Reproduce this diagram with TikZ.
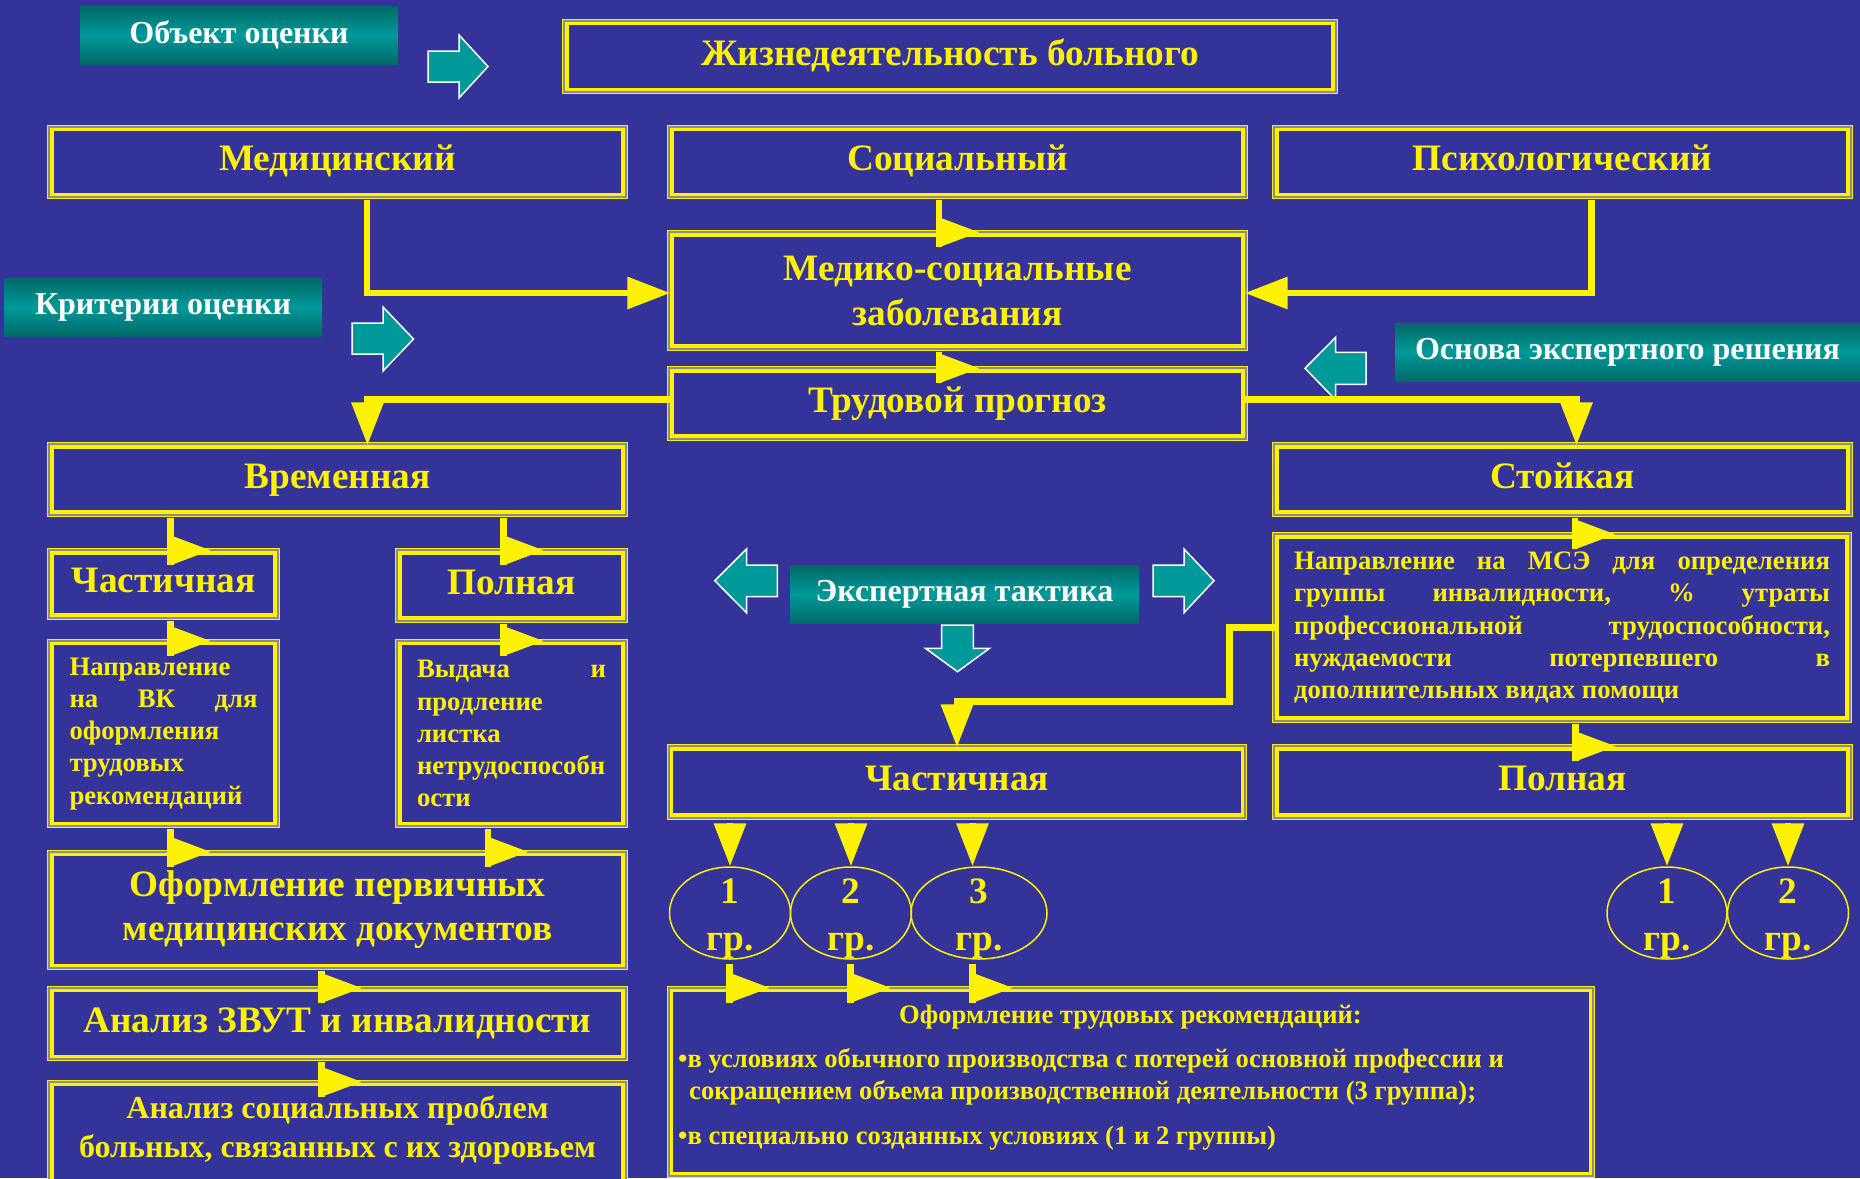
\documentclass[tikz,border=0pt]{standalone}
\usepackage{fontspec}
\setmainfont{Liberation Serif}
\usetikzlibrary{arrows.meta,calc,shapes.geometric}
\hyphenpenalty=10000
\exhyphenpenalty=10000

\definecolor{bgblue}{RGB}{51,51,153}
\definecolor{teallight}{RGB}{0,153,153}
\definecolor{tealdark}{RGB}{0,104,104}
\definecolor{framegray}{RGB}{140,140,140}

\tikzset{
	box/.style={draw=yellow, line width=3.4pt, fill=bgblue, text=yellow, inner sep=0pt, align=center,
		font=\bfseries\fontsize{37.3}{45}\selectfont,
		preaction={draw=yellow, line width=9.4pt}, preaction={draw=framegray, line width=7.4pt}},
	onebox/.style={box, text height=25pt, text depth=8pt},
	smallbox/.style={box, font=\bfseries\fontsize{26.7}{32.3}\selectfont, align=justify},
	tealtag/.style={top color=tealdark, bottom color=tealdark, middle color=teallight, text=white, inner sep=0pt,
		minimum height=58pt, font=\bfseries\fontsize{32}{38}\selectfont},
	tarrow/.style={fill=teallight, draw=white, line width=1.5pt, line join=miter},
	group/.style={ellipse, draw=yellow, line width=1.5pt, inner sep=0pt, minimum height=92pt},
	grtext/.style={text=yellow, align=center, font=\bfseries\fontsize{37.3}{47}\selectfont},
	yline/.style={draw=yellow, line width=6.5pt},
	yarrow/.style={yline, -{Triangle[length=43pt,width=31pt]}},
	rectext/.style={text=yellow, font=\bfseries\fontsize{26.6}{30}\selectfont}
}

% linea vertical con punta lateral
\newcommand{\sidearrow}[3]{%
	\draw[yline] ($(#1.south -| #2.north)+(#3,4)$) -- ($(#2.north)+(#3,14)$);
	\fill[yellow] ($(#2.north)+(#3,-16)$) -- ($(#2.north)+(#3,14)$) -- ($(#2.north)+(#3+40,-1)$) -- cycle;}

\begin{document}
\begin{tikzpicture}[x=1pt, y=-1pt]
	\useasboundingbox (0,0) rectangle (1860,1178);
	\clip (0,0) rectangle (1860,1178);
	\fill[bgblue] (0,0) rectangle (1860,1178);
	% Etiquetas
		\node[tealtag, minimum width=318pt] (obj) at (239,35) {Объект оценки};
		\node[tealtag, minimum width=318pt] (krit) at (163,307) {Критерии оценки};
		\node[tealtag, minimum width=465pt] (osnova) at (1627.5,352) {Основа экспертного решения};
		\node[tealtag, minimum width=349pt] (takt) at (964.5,594.5) {Экспертная тактика};
	% Flechas turquesa
		\draw[tarrow] (428,51) -- (459,51) -- (459,35) -- (488,66.5) -- (459,98) -- (459,82) -- (428,82) -- cycle;
		\draw[tarrow] (352,323) -- (383,323) -- (383,307) -- (413.5,339) -- (383,371) -- (383,354) -- (352,354) -- cycle;
		\draw[tarrow] (1366,352.3) -- (1335.7,352.3) -- (1335.7,337.3) -- (1305,368.3) -- (1335.7,400) -- (1335.7,384.3) -- (1366,384.3) -- cycle;
		\draw[tarrow] (777.3,565) -- (746.5,565) -- (746.5,549) -- (714.8,580.7) -- (746.5,612.7) -- (746.5,596.7) -- (777.3,596.7) -- cycle;
		\draw[tarrow] (1153,565) -- (1184,565) -- (1184,549) -- (1214,580.7) -- (1184,612.7) -- (1184,596.7) -- (1153,596.7) -- cycle;
		\draw[tarrow] (941.7,625) -- (941.7,648.3) -- (925.5,648.3) -- (957.5,671.7) -- (989.5,648.3) -- (973.3,648.3) -- (973.3,625) -- cycle;
	% Cajas
		\node[onebox, minimum width=766pt, minimum height=66pt] (zhiz) at (950,56.5) {Жизнедеятельность больного};
		\node[onebox, minimum width=571pt, minimum height=65pt] (med) at (337.5,162) {Медицинский};
		\node[onebox, minimum width=571pt, minimum height=65pt] (soc) at (957.5,162) {Социальный};
		\node[onebox, minimum width=571pt, minimum height=65pt] (psy) at (1562.5,162) {Психологический};
		\node[box, minimum width=571pt, minimum height=111pt] (medsoc) at (957.5,290.5) {Медико-социальные\\заболевания};
		\node[onebox, minimum width=571pt, minimum height=65pt] (trud) at (957.5,403.5) {Трудовой прогноз};
		\node[onebox, minimum width=571pt, minimum height=65pt] (vrem) at (337.5,479.5) {Временная};
		\node[onebox, minimum width=571pt, minimum height=65pt] (stoik) at (1562.5,479.5) {Стойкая};
		\node[onebox, minimum width=223pt, minimum height=62pt] (chastl) at (163.5,584) {Частичная};
		\node[onebox, minimum width=223pt, minimum height=65pt] (polnl) at (511.5,585.5) {Полная};
		\node[smallbox, minimum width=223pt, minimum height=180pt, text width=188pt] (vk) at (163.5,733.7)
			{Направление\linebreak на ВК для\linebreak оформления\linebreak трудовых\linebreak рекомендаций};
		\node[smallbox, minimum width=223pt, minimum height=180pt, text width=189pt] (vyd) at (511.5,733.7)
			{Выдача и\linebreak продление\linebreak листка\linebreak нетрудоспособн\linebreak ости};
		\node[box, minimum width=571pt, minimum height=111pt, font=\bfseries\fontsize{37.3}{44}\selectfont] (oform) at (337.5,910)
			{Оформление первичных\\медицинских документов};
		\node[onebox, minimum width=571pt, minimum height=66pt] (zvut) at (337.5,1023.7) {Анализ ЗВУТ и инвалидности};
		\node[box, minimum width=571pt, minimum height=140pt, anchor=north] (socprob) at (337.5,1082.8) {};
		\node[text=yellow, align=center, font=\bfseries\fontsize{32}{39}\selectfont] (socprobt) at (337.5,1130)
			{Анализ социальных проблем\\больных, связанных с их здоровьем};
		\node[smallbox, minimum width=570pt, minimum height=181pt, text width=536pt] (mse) at (1562,627.5)
			{Направление на МСЭ для определения\linebreak группы инвалидности, \% утраты\linebreak
			профессиональной трудоспособности,\linebreak нуждаемости потерпевшего в\linebreak дополнительных видах помощи};
		\node[onebox, minimum width=571pt, minimum height=66pt] (chastm) at (957,782) {Частичная};
		\node[onebox, minimum width=571pt, minimum height=66pt] (polnr) at (1562.5,782) {Полная};
		\node[box, minimum width=919pt, minimum height=183pt] (trudrek) at (1131,1082) {};
		\node[rectext, anchor=base] (trtitle) at (1130.5,1023) {Оформление трудовых рекомендаций:};
		\node[rectext, anchor=base west, inner sep=0pt] (trbul1) at (678,1067) {•в условиях обычного производства с потерей основной профессии и};
		\node[rectext, anchor=base west, inner sep=0pt] (trbul2) at (689,1099) {сокращением объема производственной деятельности (3 группа);};
		\node[rectext, anchor=base west, inner sep=0pt] (trbul3) at (678,1144) {•в специально созданных условиях (1 и 2 группы)};
	% Grupos
		\node[group, minimum width=121pt] (e1) at (730,913) {};
		\node[group, minimum width=121pt] (e2) at (851,913) {};
		\node[group, minimum width=136pt] (e3) at (979,913) {};
		\node[group, minimum width=120pt] (r1) at (1667,913) {};
		\node[group, minimum width=121pt] (r2) at (1788,913) {};
		\node[grtext] (e1t) at (730,918.5) {1\\гр.};
		\node[grtext] (e2t) at (851,918.5) {2\\гр.};
		\node[grtext] (e3t) at (979,918.5) {3\\гр.};
		\node[grtext] (r1t) at (1667,918.5) {1\\гр.};
		\node[grtext] (r2t) at (1788,918.5) {2\\гр.};
	% Conexiones
		\draw[yarrow] (med.south) ++(29.5,4) |- ($(medsoc.west)+(0,2.5)$);
		\draw[yarrow] (psy.south) ++(29,4) |- ($(medsoc.east)+(0,2.5)$);
		\draw[yarrow] (trud.west) ++(0,-4) -| ($(vrem.north)+(30,0)$);
		\draw[yarrow] (trud.east) ++(0,-4) -| ($(stoik.north)+(14,0)$);
		\draw[yarrow] (mse.west) -| ++(-46,74) -| (chastm.north);
		\sidearrow{soc}{medsoc}{-18.5}
		\sidearrow{medsoc}{trud}{-18.5}
		\sidearrow{vrem}{chastl}{7}
		\sidearrow{vrem}{polnl}{-8}
		\sidearrow{chastl}{vk}{7}
		\sidearrow{polnl}{vyd}{-8}
		\sidearrow{vk}{oform}{-167}
		\sidearrow{vyd}{oform}{150.5}
		\sidearrow{oform}{zvut}{-16}
		\sidearrow{zvut}{socprob}{-16}
		\sidearrow{stoik}{mse}{13}
		\sidearrow{mse}{polnr}{13}
		\sidearrow{e1}{trudrek}{-401.5}
		\sidearrow{e2}{trudrek}{-280.5}
		\sidearrow{e3}{trudrek}{-158.5}
		\draw[yarrow] ($(chastm.south -| e1.north)+(0,6)$) -- (e1.north);
		\draw[yarrow] ($(chastm.south -| e2.north)+(0,6)$) -- (e2.north);
		\draw[yarrow] ($(chastm.south -| e3.north)+(-6.5,6)$) -- ($(e3.north)+(-6.5,0)$);
		\draw[yarrow] ($(polnr.south -| r1.north)+(0,6)$) -- (r1.north);
		\draw[yarrow] ($(polnr.south -| r2.north)+(0,6)$) -- (r2.north);
\end{tikzpicture}
\end{document}
